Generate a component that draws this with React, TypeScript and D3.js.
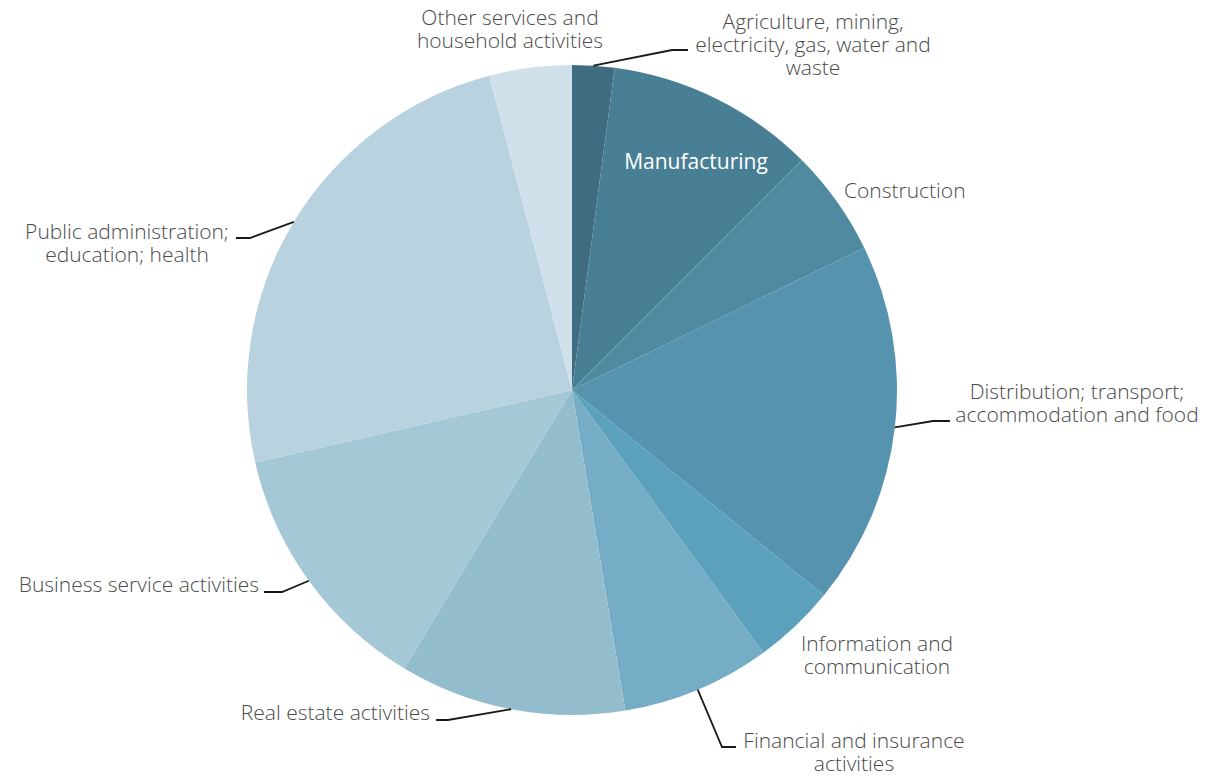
import React from "react";
import * as d3 from "d3";

const categories = [
  "Agriculture, mining, electricity, gas, water and waste",
  "Manufacturing",
  "Construction",
  "Distribution; transport; accommodation and food",
  "Information and communication",
  "Financial and insurance activities",
  "Real estate activities",
  "Business service activities",
  "Public administration; education; health",
  "Other services and household activities",
];
const shares = [2.1, 10.4, 5.3, 18.1, 4.1, 7.4, 11.25, 12.8, 24.5, 4.1];
const colors = [
  "#3f6d7f", "#497f94", "#4f8aa1", "#5593ae", "#5ba1bc",
  "#75adc6", "#93bdcd", "#a5c8d7", "#b8d3df", "#cfe0ea",
];
const labelLines = [
  ["Agriculture, mining,", "electricity, gas, water and", "waste"],
  ["Manufacturing"],
  ["Construction"],
  ["Distribution; transport;", "accommodation and food"],
  ["Information and", "communication"],
  ["Financial and insurance", "activities"],
  ["Real estate activities"],
  ["Business service activities"],
  ["Public administration;", "education; health"],
  ["Other services and", "household activities"],
];

// layout (not data)
const W = 1208, H = 776;
const CX = 572, CY = 390, R = 325;
const LH = 23;
type Lay = { x: number; y: number; anchor: string; fill?: string; leader?: [number, number, number] };
const layout: Lay[] = [
  { x: 813, y: 29, anchor: "middle", leader: [672, 50, 688] },
  { x: 696, y: 169, anchor: "middle", fill: "#ffffff" },
  { x: 844, y: 198, anchor: "start" },
  { x: 1077, y: 399, anchor: "middle", leader: [933, 421, 950] },
  { x: 877, y: 651, anchor: "middle" },
  { x: 854, y: 748, anchor: "middle", leader: [722, 747, 736] },
  { x: 430, y: 720, anchor: "end", leader: [448, 720, 436] },
  { x: 259, y: 592, anchor: "end", leader: [282, 592, 264] },
  { x: 127, y: 239, anchor: "middle", leader: [250, 238, 236] },
  { x: 510, y: 25, anchor: "middle" },
];

export default function App() {
  const pie = d3.pie<number>().sort(null).value((d) => d)(shares);
  const arc = d3.arc<d3.PieArcDatum<number>>().innerRadius(0).outerRadius(R);
  return (
    <svg width={W} height={H} style={{ position: "absolute", left: 0, top: 0, background: "#fff" }}
      fontFamily="'Open Sans', sans-serif" fontSize={21} fontWeight={300}>
      <g transform={`translate(${CX},${CY})`}>
        {pie.map((p, i) => (
          <path key={i} d={arc(p) || ""} fill={colors[i]} />
        ))}
      </g>
      {pie.map((p, i) => {
        const L = layout[i];
        if (!L.leader) return null;
        const a = (p.startAngle + p.endAngle) / 2;
        const sx = CX + R * Math.sin(a);
        const sy = CY - R * Math.cos(a);
        const [ex, ey, hx] = L.leader;
        return (
          <polyline key={"l" + i} points={`${sx},${sy} ${ex},${ey} ${hx},${ey}`}
            fill="none" stroke="#1a1a1a" strokeWidth={1.8} />
        );
      })}
      {labelLines.map((lines, i) => {
        const L = layout[i];
        return (
          <text key={"t" + i} x={L.x} y={L.y} textAnchor={L.anchor} fill={L.fill || "#4a4a4a"}
            fontWeight={L.fill ? 400 : 300}>
            {lines.map((s, j) => (
              <tspan key={j} x={L.x} dy={j === 0 ? 0 : LH}>{s}</tspan>
            ))}
          </text>
        );
      })}
    </svg>
  );
}
